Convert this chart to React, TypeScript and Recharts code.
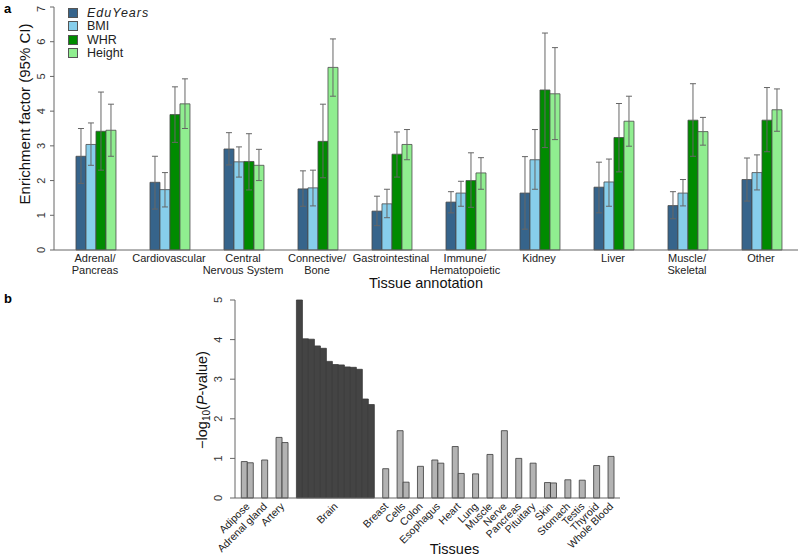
import { BarChart, Bar, XAxis, YAxis, ErrorBar, Legend, Cell, Label } from "recharts";

const FONT = '"Liberation Sans", Arial, Helvetica, sans-serif';

// ---- panel a: enrichment per tissue annotation ----
const annotations = [
  "Adrenal/\nPancreas",
  "Cardiovascular",
  "Central\nNervous System",
  "Connective/\nBone",
  "Gastrointestinal",
  "Immune/\nHematopoietic",
  "Kidney",
  "Liver",
  "Muscle/\nSkeletal",
  "Other",
];

const eduYears = [2.7, 1.95, 2.91, 1.76, 1.12, 1.38, 1.64, 1.81, 1.28, 2.03];
const eduYearsLow = [1.92, 1.18, 2.45, 1.26, 0.7, 1.07, 0.6, 1.07, 0.9, 1.41];
const eduYearsHigh = [3.5, 2.7, 3.38, 2.28, 1.55, 1.68, 2.69, 2.53, 1.68, 2.65];

const bmi = [3.04, 1.74, 2.54, 1.79, 1.33, 1.64, 2.6, 1.96, 1.64, 2.23];
const bmiLow = [2.44, 1.24, 2.1, 1.27, 0.93, 1.26, 1.75, 1.26, 1.27, 1.73];
const bmiHigh = [3.66, 2.23, 2.97, 2.3, 1.75, 1.98, 3.47, 2.62, 2.03, 2.74];

const whr = [3.42, 3.9, 2.55, 3.13, 2.76, 2.0, 4.61, 3.24, 3.74, 3.74];
const whrLow = [2.3, 3.1, 1.73, 2.08, 2.1, 1.23, 2.95, 2.25, 2.7, 2.83];
const whrHigh = [4.55, 4.7, 3.35, 4.2, 3.4, 2.8, 6.25, 4.22, 4.79, 4.68];

const height = [3.45, 4.21, 2.44, 5.26, 3.04, 2.22, 4.5, 3.71, 3.41, 4.04];
const heightLow = [2.7, 3.5, 2.0, 4.43, 2.6, 1.75, 3.18, 2.99, 3.02, 3.42];
const heightHigh = [4.2, 4.93, 2.9, 6.08, 3.47, 2.66, 5.83, 4.43, 3.82, 4.64];

const enrichmentTicks = [0, 1, 2, 3, 4, 5, 6, 7];

const series = [
  { key: "edu", label: "EduYears", color: "#36648B", italic: true, values: eduYears, low: eduYearsLow, high: eduYearsHigh },
  { key: "bmi", label: "BMI", color: "#87CEEB", italic: false, values: bmi, low: bmiLow, high: bmiHigh },
  { key: "whr", label: "WHR", color: "#008B00", italic: false, values: whr, low: whrLow, high: whrHigh },
  { key: "height", label: "Height", color: "#90EE90", italic: false, values: height, low: heightLow, high: heightHigh },
];

const annotationData = annotations.map((name, i) => {
  const row: Record<string, unknown> = { name };
  series.forEach((s) => {
    row[s.key] = s.values[i];
    row[s.key + "Err"] = [s.values[i] - s.low[i], s.high[i] - s.values[i]];
  });
  return row;
});

// ---- panel b: GTEx tissues ----
const tissueGroups = [
  "Adipose", "Adrenal gland", "Artery", "Brain", "Breast", "Cells", "Colon", "Esophagus", "Heart", "Lung",
  "Muscle", "Nerve", "Pancreas", "Pituitary", "Skin", "Stomach", "Testis", "Thyroid", "Whole Blood",
];

const tissueValues = [
  [0.92, 0.89],
  [0.96],
  [1.53, 1.4],
  [5.0, 4.02, 4.01, 3.84, 3.78, 3.45, 3.37, 3.36, 3.31, 3.3, 3.25, 2.5, 2.36],
  [0.74],
  [1.7, 0.4],
  [0.8],
  [0.96, 0.88],
  [1.3, 0.62],
  [0.61],
  [1.1],
  [1.7],
  [1.0],
  [0.88],
  [0.39, 0.38],
  [0.46],
  [0.45],
  [0.82],
  [1.05],
];

const pvalueTicks = [0, 1, 2, 3, 4, 5];
const highlightGroup = "Brain";

// barplot-style layout: bars touch inside a group, groups separated by a space
const GROUP_SPACE = 1.4;
const tissueData: { pos: number; value: number; group: string }[] = [];
const tissueTicks: number[] = [];
let cursor = 0;
tissueGroups.forEach((group, g) => {
  const start = cursor;
  tissueValues[g].forEach((v) => {
    tissueData.push({ pos: cursor + 0.5, value: v, group });
    cursor += 1;
  });
  tissueTicks.push((start + cursor) / 2);
  cursor += GROUP_SPACE;
});
const lastEdge = cursor - GROUP_SPACE;

function RotatedYTick({ x, y, payload }: any) {
  return (
    <text
      x={x}
      y={y}
      transform={`rotate(-90 ${x} ${y})`}
      textAnchor="middle"
      fontSize={11}
      fill="#333"
      fontFamily={FONT}
    >
      {payload.value}
    </text>
  );
}

function AnnotationTick({ x, y, payload }: any) {
  const lines = String(payload.value).split("\n");
  return (
    <text x={x} y={y} textAnchor="middle" fontSize={11} fill="#222" fontFamily={FONT}>
      {lines.map((l, i) => (
        <tspan key={i} x={x} dy={12}>
          {l}
        </tspan>
      ))}
    </text>
  );
}

function TissueTick({ x, y, payload, index }: any) {
  let idx = tissueTicks.indexOf(payload.value);
  if (idx < 0) idx = index;
  const tx = x + 3;
  const ty = y + 9;
  return (
    <text
      x={tx}
      y={ty}
      transform={`rotate(-45 ${tx} ${ty})`}
      textAnchor="end"
      fontSize={10.5}
      fill="#222"
      fontFamily={FONT}
    >
      {tissueGroups[idx]}
    </text>
  );
}

function SeriesLegend() {
  return (
    <div style={{ fontFamily: FONT, fontSize: 12.5, color: "#222" }}>
      {series.map((s) => (
        <div key={s.key} style={{ display: "flex", alignItems: "center", height: 13.5 }}>
          <span
            style={{
              display: "inline-block",
              width: 8,
              height: 8,
              background: s.color,
              border: "1px solid #555",
              marginRight: 9,
            }}
          />
          <span style={{ fontStyle: s.italic ? "italic" : "normal", letterSpacing: s.italic ? 1 : 0 }}>
            {s.label}
          </span>
        </div>
      ))}
    </div>
  );
}

export default function App() {
  return (
    <div style={{ position: "relative", width: 800, height: 558, background: "#fff", fontFamily: FONT }}>
      <style>{"body{margin:0}"}</style>

      <div style={{ position: "absolute", left: 4, top: 1, fontWeight: "bold", fontSize: 13 }}>a</div>
      <div style={{ position: "absolute", left: 0, top: 0 }}>
        <BarChart
          width={800}
          height={295}
          data={annotationData}
          margin={{ top: 7, right: 2, left: 0, bottom: 0 }}
          barCategoryGap="24.3%"
          barGap={0}
        >
          <XAxis
            dataKey="name"
            interval={0}
            tickSize={0}
            tickMargin={0}
            tick={<AnnotationTick />}
            height={45}
            padding={{ left: 4, right: 0 }}
            axisLine={{ stroke: "#666" }}
          >
            <Label
              content={({ viewBox }: any) => (
                <text
                  x={viewBox.x + viewBox.width / 2}
                  y={viewBox.y + 38}
                  textAnchor="middle"
                  fontSize={14.5}
                  fill="#111"
                  fontFamily={FONT}
                >
                  Tissue annotation
                </text>
              )}
            />
          </XAxis>
          <YAxis
            domain={[0, 7]}
            ticks={enrichmentTicks}
            width={54}
            tickSize={4}
            tickMargin={5}
            tick={<RotatedYTick />}
            axisLine={{ stroke: "#666" }}
            tickLine={{ stroke: "#666" }}
          >
            <Label
              content={() => (
                <text
                  x={30}
                  y={114}
                  transform="rotate(-90 30 114)"
                  textAnchor="middle"
                  fontSize={15}
                  fill="#111"
                  fontFamily={FONT}
                >
                  Enrichment factor (95% CI)
                </text>
              )}
            />
          </YAxis>
          <Legend
            layout="vertical"
            align="center"
            verticalAlign="middle"
            content={<SeriesLegend />}
            wrapperStyle={{ left: 68, top: 6, width: 110 }}
          />
          {series.map((s) => (
            <Bar
              key={s.key}
              dataKey={s.key}
              name={s.label}
              fill={s.color}
              stroke="#4a4a4a"
              strokeWidth={0.8}
              isAnimationActive={false}
            >
              <ErrorBar dataKey={s.key + "Err"} width={3} stroke="#666" strokeWidth={1} direction="y" />
            </Bar>
          ))}
        </BarChart>
      </div>

      <div style={{ position: "absolute", left: 4, top: 291, fontWeight: "bold", fontSize: 13 }}>b</div>
      <div style={{ position: "absolute", left: 0, top: 290 }}>
        <BarChart
          width={800}
          height={268}
          data={tissueData}
          margin={{ top: 10, right: 180, left: 0, bottom: 0 }}
          barCategoryGap={0}
          barGap={0}
        >
          <XAxis
            type="number"
            dataKey="pos"
            domain={[-1.05, lastEdge + 1]}
            ticks={tissueTicks}
            interval={0}
            tickSize={0}
            tickMargin={0}
            tick={<TissueTick />}
            height={60}
            axisLine={{ stroke: "#666" }}
          >
            <Label
              content={({ viewBox }: any) => (
                <text
                  x={viewBox.x + viewBox.width / 2 + 27}
                  y={viewBox.y + 56}
                  textAnchor="middle"
                  fontSize={14.5}
                  fill="#111"
                  fontFamily={FONT}
                >
                  Tissues
                </text>
              )}
            />
          </XAxis>
          <YAxis
            domain={[0, 5]}
            ticks={pvalueTicks}
            width={235}
            tickSize={5}
            tickMargin={8}
            tick={<RotatedYTick />}
            axisLine={{ stroke: "#666" }}
            tickLine={{ stroke: "#666" }}
          >
            <Label
              content={() => (
                <text
                  x={207}
                  y={110}
                  transform="rotate(-90 207 110)"
                  textAnchor="middle"
                  fontSize={14.5}
                  fill="#111"
                  fontFamily={FONT}
                >
                  −log
                  <tspan fontSize={10} dy={3}>
                    10
                  </tspan>
                  <tspan dy={-3}>(</tspan>
                  <tspan fontStyle="italic">P</tspan>
                  <tspan>-value)</tspan>
                </text>
              )}
            />
          </YAxis>
          <Bar dataKey="value" stroke="#3a3a3a" strokeWidth={0.8} isAnimationActive={false}>
            {tissueData.map((d, i) => (
              <Cell key={i} fill={d.group === highlightGroup ? "#444444" : "#b3b3b3"} />
            ))}
          </Bar>
        </BarChart>
      </div>
    </div>
  );
}
